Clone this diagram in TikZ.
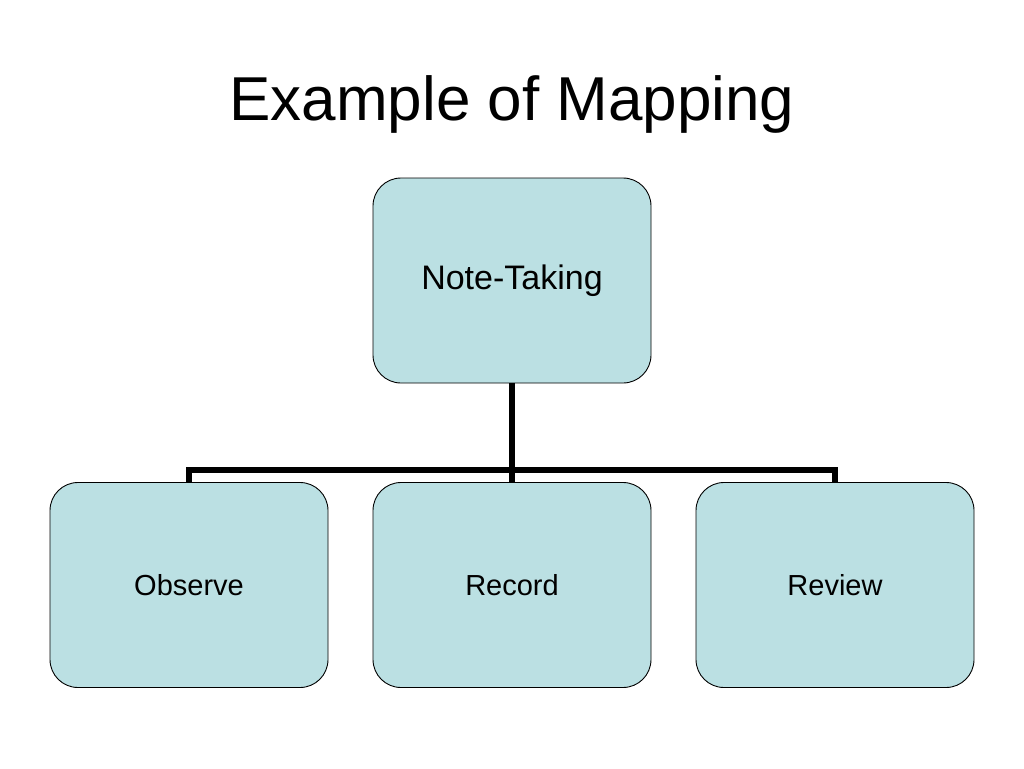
\documentclass[tikz,border=0pt]{standalone}
\usepackage{fontspec}
\setmainfont{Liberation Sans}
\definecolor{boxfill}{RGB}{187,224,227}
\tikzset{
  mapbox/.style={draw=black, line width=0.9pt, fill=boxfill, rounded corners=28pt,
    minimum width=278pt, minimum height=205pt, inner sep=0pt, align=center},
  link/.style={line width=5.5pt, black}
}
\begin{document}
\begin{tikzpicture}[x=1pt,y=-1pt]
\useasboundingbox (0,0) rectangle (1024,768);
\node[anchor=base] (title) at (512,120) {\fontsize{62}{70}\selectfont Example of Mapping};
\node[mapbox] (top) at (512,280.5) {\raisebox{-3pt}{\fontsize{34}{38}\selectfont Note-Taking}};
\node[mapbox] (obs) at (189,585) {\fontsize{29}{34}\selectfont Observe};
\node[mapbox] (rec) at (512,585) {\fontsize{29}{34}\selectfont Record};
\node[mapbox] (rev) at (835,585) {\fontsize{29}{34}\selectfont Review};
\coordinate (bar) at (512,470);
\draw[link] (top.south) -- (bar);
\draw[link] (obs.north) |- (bar) -| (rev.north);
\draw[link] (bar) -- (rec.north);
\end{tikzpicture}
\end{document}
